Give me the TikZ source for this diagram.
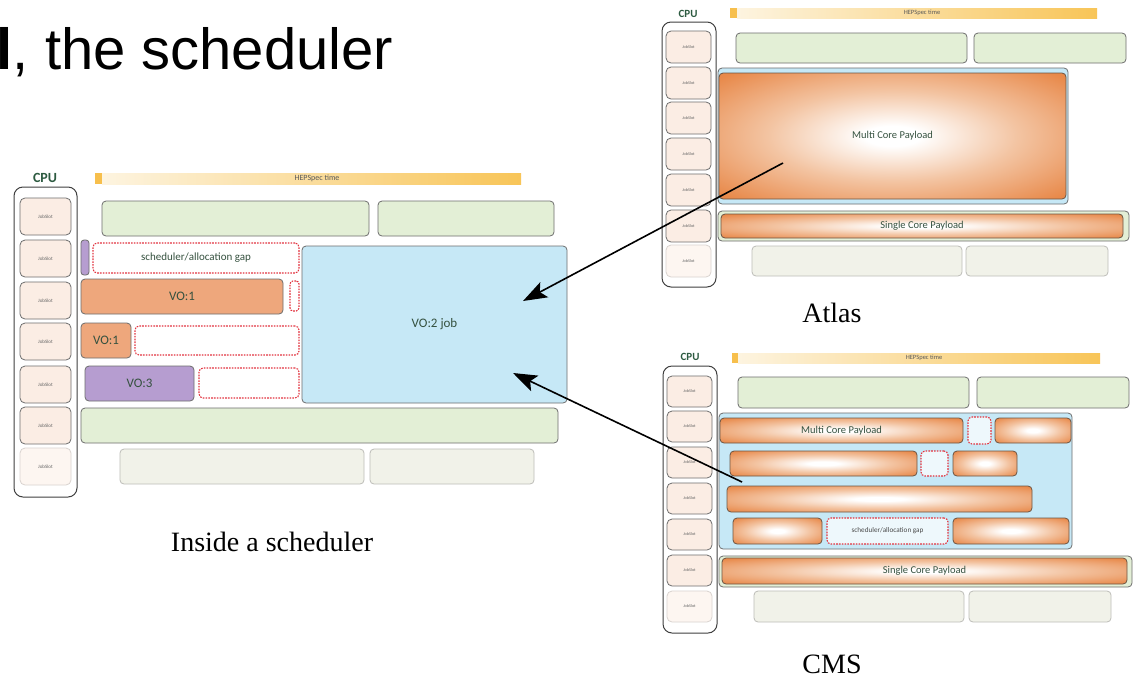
\documentclass[tikz,border=0pt]{standalone}
\usepackage{fontspec}
\usetikzlibrary{arrows.meta}
\newfontfamily\arialf{Liberation Sans}
\newfontfamily\timesf{Liberation Serif}
\newfontfamily\carlito{Carlito}
\newcommand\myfs[1]{\fontsize{#1}{#1}\selectfont}
\definecolor{bordergray}{HTML}{6E6E6E}
\definecolor{slotfill}{HTML}{FBEDE4}
\definecolor{slotlastfill}{HTML}{FDF6F1}
\definecolor{slotlastdraw}{HTML}{D9D3CF}
\definecolor{cpuborder}{HTML}{3F3F3F}
\definecolor{greenfill}{HTML}{E3EFD6}
\definecolor{grayfill}{HTML}{F1F2E9}
\definecolor{grayborder}{HTML}{BDBDB8}
\definecolor{vofill}{HTML}{EEA77C}
\definecolor{purplefill}{HTML}{B69DD0}
\definecolor{bluefill}{HTML}{C6E8F6}
\definecolor{gapred}{HTML}{E2333F}
\definecolor{payload}{HTML}{E8894A}
\definecolor{payloadmid}{HTML}{F3C4A2}
\definecolor{payloadborder}{HTML}{6B5544}
\definecolor{txtgreen}{HTML}{35513F}
\definecolor{cpugreen}{HTML}{2C5A40}
\definecolor{hepleft}{HTML}{FDF4E0}
\definecolor{hepright}{HTML}{F8C558}
\definecolor{hepsqc}{HTML}{F7BF4C}
\definecolor{gapfillC}{HTML}{EEF8FC}
\pgfdeclareradialshading{glow}{\pgfpoint{0bp}{0bp}}{color(0bp)=(white); color(4bp)=(white); color(18bp)=(payloadmid); color(34bp)=(payload); color(50bp)=(payload)}
\newcommand\bx[7]{\node[#2,anchor=north west,minimum width={(#5)-(#3)},minimum height={(#6)-(#4)}] (#1) at (#3,#4) {#7};}
\tikzset{
  bxbase/.style={inner sep=0pt, outer sep=0pt, rounded corners=4pt, line width=0.8pt, draw=bordergray, text=txtgreen, font=\carlito\myfs{11}},
  slotL/.style={bxbase, fill=slotfill, rounded corners=5pt, text=black!60, font=\carlito\myfs{5}},
  slotLlast/.style={slotL, fill=slotlastfill, draw=slotlastdraw},
  slotR/.style={slotL, font=\carlito\myfs{4.2}},
  slotRlast/.style={slotR, fill=slotlastfill, draw=slotlastdraw},
  cpubox/.style={bxbase, draw=cpuborder, fill=white, rounded corners=9pt, line width=1pt},
  cpulabel/.style={font=\carlito\bfseries\myfs{#1}, text=cpugreen, inner sep=0pt},
  greenbox/.style={bxbase, fill=greenfill},
  graybox/.style={bxbase, fill=grayfill, draw=grayborder},
  vobox/.style={bxbase, fill=vofill, font=\carlito\myfs{13}},
  purplebox/.style={bxbase, fill=purplefill, font=\carlito\myfs{13}},
  bluebox/.style={bxbase, fill=bluefill, font=\carlito\myfs{13}},
  gapbox/.style={bxbase, draw=gapred, dash pattern=on 1.6pt off 1.2pt, line width=1.1pt, fill=white},
  gapboxC/.style={gapbox, fill=gapfillC, font=\carlito\myfs{7.2}, text=black!70},
  payloadbox/.style={bxbase, draw=payloadborder, shade, shading=glow, font=\carlito\myfs{10.5}},
  hepbar/.style={inner sep=0pt, outer sep=0pt, left color=hepleft, right color=hepright},
  hepsq/.style={inner sep=0pt, outer sep=0pt, fill=hepsqc},
  heplabel/.style={font=\carlito\myfs{#1}, text=black!65, inner sep=0pt},
  caption/.style={font=\timesf\myfs{28}, anchor=base, inner sep=0pt},
  bigarrow/.style={-{Stealth[length=24pt,width=17pt,inset=5pt]}, line width=1.6pt, draw=black}
}
\begin{document}
\begin{tikzpicture}[x=1pt,y=-1pt]
\useasboundingbox (0,0) rectangle (1134,678);
\fill[white] (0,0) rectangle (1134,678);
% title
\node[anchor=base west, inner sep=0pt, font=\arialf\myfs{58}] (title) at (0,69) {\hspace*{-3.5pt}\textbf{l}, the scheduler};

% ===== left: inside a scheduler =====
\node[cpulabel=14] (cpuL) at (45,178) {CPU};
\bx{hepLsq}{hepsq}{95}{173}{102}{184}{}
\bx{hepL}{hepbar}{102}{173}{521}{184}{}
\node[heplabel=8] (hepLt) at (317,178.5) {HEPSpec time};
\bx{cpuboxL}{cpubox}{14}{187}{77}{497}{}
\foreach \t/\s [count=\i] in {198/slotL,240/slotL,282/slotL,323/slotL,366/slotL,407/slotL,448/slotLlast}{
  \bx{sL\i}{\s}{20}{\t}{71}{\t+37}{JobSlot}
}
\bx{greenL1}{greenbox}{102}{201}{369}{236}{}
\bx{greenL2}{greenbox}{378}{201}{554}{236}{}
\bx{purpL}{purplebox, rounded corners=3pt}{81}{240}{89}{275}{}
\bx{gapL1}{gapbox}{93}{243}{299}{273}{scheduler/allocation gap}
\bx{vo1a}{vobox}{81}{279}{283}{314}{VO:1}
\bx{gapL2}{gapbox, rounded corners=3pt}{290}{281}{299}{311}{}
\bx{vo1b}{vobox}{81}{323}{131}{358}{VO:1}
\bx{gapL3}{gapbox}{135}{326}{299}{355}{}
\bx{vo3}{purplebox}{85}{366}{194}{401}{VO:3}
\bx{gapL4}{gapbox}{199}{368}{299}{398}{}
\bx{vo2}{bluebox}{302}{246}{567}{403}{VO:2 job}
\bx{greenL3}{greenbox}{81}{408}{558}{443}{}
\bx{grayL1}{graybox}{120}{449}{364}{484}{}
\bx{grayL2}{graybox}{370}{449}{534}{484}{}
\node[caption] (capL) at (272,551) {Inside a scheduler};

% ===== Atlas =====
\node[cpulabel=11] (cpuA) at (688,14) {CPU};
\bx{hepAsq}{hepsq}{730}{8}{737}{18}{}
\bx{hepA}{hepbar}{737}{8}{1097}{18}{}
\node[heplabel=6.5] (hepAt) at (922,13) {HEPSpec time};
\bx{cpuboxA}{cpubox}{662}{22}{716}{287}{}
\foreach \t/\s [count=\i] in {31/slotR,67/slotR,102/slotR,138/slotR,174/slotR,210/slotR,245/slotRlast}{
  \bx{sA\i}{\s}{666}{\t}{711}{\t+32}{JobSlot}
}
\bx{greenA1}{greenbox}{736}{33}{967}{63}{}
\bx{greenA2}{greenbox}{974}{33}{1126}{63}{}
\bx{contA}{bluebox}{718}{68}{1068}{204}{}
\bx{mcA}{payloadbox}{719}{73}{1066}{199}{Multi Core Payload}
\bx{scContA}{greenbox}{718}{211}{1129}{241}{}
\bx{scA}{payloadbox}{721}{214}{1123}{238}{Single Core Payload}
\bx{grayA1}{graybox}{752}{246}{962}{276}{}
\bx{grayA2}{graybox}{966}{246}{1108}{276}{}
\node[caption] (capA) at (832,322) {Atlas};

% ===== CMS =====
\node[cpulabel=11] (cpuC) at (690,357) {CPU};
\bx{hepCsq}{hepsq}{732}{353}{738}{363}{}
\bx{hepC}{hepbar}{738}{353}{1100}{363}{}
\node[heplabel=6.5] (hepCt) at (924,358) {HEPSpec time};
\bx{cpuboxC}{cpubox}{663}{366}{717}{633}{}
\foreach \t/\s [count=\i] in {376/slotR,411/slotR,447/slotR,483/slotR,519/slotR,555/slotR,591/slotRlast}{
  \bx{sC\i}{\s}{667}{\t}{712}{\t+31}{JobSlot}
}
\bx{greenC1}{greenbox}{738}{377}{969}{408}{}
\bx{greenC2}{greenbox}{977}{377}{1129}{408}{}
\bx{contC}{bluebox}{719}{413}{1072}{549}{}
\bx{r1a}{payloadbox}{720}{418}{963}{443}{Multi Core Payload}
\bx{r1g}{gapboxC}{968}{417}{991}{444}{}
\bx{r1b}{payloadbox}{995}{418}{1071}{443}{}
\bx{r2a}{payloadbox}{730}{451}{917}{476}{}
\bx{r2g}{gapboxC}{921}{451}{948}{476}{}
\bx{r2b}{payloadbox}{953}{451}{1017}{476}{}
\bx{r3}{payloadbox}{727}{486}{1032}{512}{}
\bx{r4a}{payloadbox}{733}{518}{822}{544}{}
\bx{r4g}{gapboxC}{827}{518}{948}{544}{scheduler/allocation gap}
\bx{r4b}{payloadbox}{953}{518}{1069}{544}{}
\bx{scContC}{greenbox}{719}{556}{1132}{587}{}
\bx{scC}{payloadbox}{722}{558}{1127}{584}{Single Core Payload}
\bx{grayC1}{graybox}{754}{591}{964}{622}{}
\bx{grayC2}{graybox}{969}{591}{1111}{622}{}
\node[caption] (capC) at (832,673) {CMS};

% ===== arrows =====
\coordinate (a1s) at (783,163);
\coordinate (a1e) at (523,301);
\coordinate (a2s) at (742,482);
\coordinate (a2e) at (513,373);
\draw[bigarrow] (a1s) -- (a1e);
\draw[bigarrow] (a2s) -- (a2e);
\end{tikzpicture}
\end{document}
